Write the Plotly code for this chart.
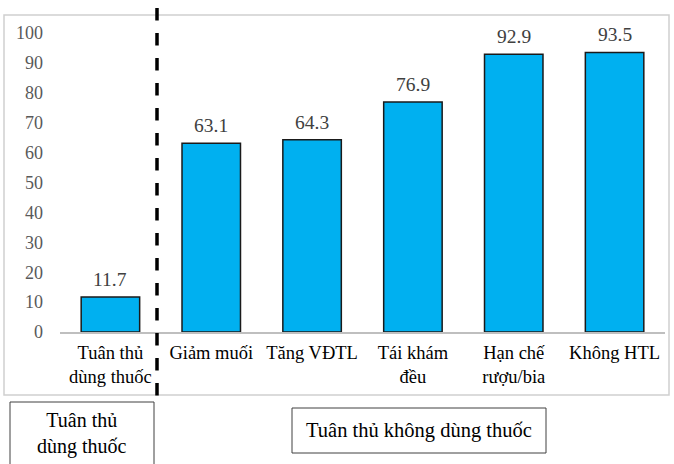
import plotly.graph_objects as go

categories = ["Tuân thủ<br>dùng thuốc", "Giảm muối", "Tăng VĐTL", "Tái khám<br>đều", "Hạn chế<br>rượu/bia", "Không HTL"]
values = [11.7, 63.1, 64.3, 76.9, 92.9, 93.5]
y_ticks = list(range(0, 101, 10))
group_labels = ["Tuân thủ<br>dùng thuốc", "Tuân thủ không dùng thuốc"]

FONT = "Liberation Serif"
W, H = 674, 464
L, R, T, B = 60, 9, 33, 132
pw, ph = W - L - R, H - T - B

def px(x):
    return (x - L) / pw

def py(y):
    return (H - B - y) / ph

xs = list(range(len(categories)))

fig = go.Figure()
fig.add_trace(go.Bar(
    x=xs, y=values,
    marker=dict(color="#00B0F0", line=dict(color="#1a1a1a", width=1.5)),
    cliponaxis=False, hoverinfo="skip",
))

shapes = [
    dict(type="rect", xref="paper", yref="paper", x0=px(4), x1=px(669), y0=py(395), y1=py(15),
         line=dict(color="#D0D0D0", width=1.5), layer="below"),
    dict(type="line", xref="paper", yref="paper", x0=px(157), x1=px(157), y0=py(-17), y1=py(395.5),
         line=dict(color="black", width=3.5, dash="12.5px,12.5px")),
    dict(type="rect", xref="paper", yref="paper", x0=px(10), x1=px(154), y0=py(470), y1=py(402),
         line=dict(color="#404040", width=1)),
    dict(type="rect", xref="paper", yref="paper", x0=px(292), x1=px(546), y0=py(453), y1=py(408),
         line=dict(color="#404040", width=1)),
]

annotations = [
    dict(xref="paper", yref="paper", x=px(82), y=py(433), text=group_labels[0], showarrow=False,
         font=dict(family=FONT, size=20, color="black"), xanchor="center", yanchor="middle"),
    dict(xref="paper", yref="paper", x=px(419), y=py(430), text=group_labels[1], showarrow=False,
         font=dict(family=FONT, size=20.5, color="black"), xanchor="center", yanchor="middle"),
]
for xi, v in zip(xs, values):
    annotations.append(dict(
        x=xi, y=v, xref="x", yref="y", text=f"{v:.1f}", showarrow=False,
        xanchor="center", yanchor="bottom", yshift=5,
        font=dict(family=FONT, size=19.5, color="#404040"),
    ))

fig.update_layout(
    width=W, height=H, margin=dict(l=L, r=R, t=T, b=B),
    plot_bgcolor="white", paper_bgcolor="white",
    showlegend=False, bargap=0.42,
    shapes=shapes, annotations=annotations,
    font=dict(family=FONT),
)
fig.update_xaxes(
    tickmode="array", tickvals=xs, ticktext=categories,
    range=[-0.5, len(categories) - 0.5],
    showline=True, linecolor="#BFBFBF", linewidth=1.5, showgrid=False, zeroline=False,
    tickfont=dict(family=FONT, size=18.5, color="black"), ticks="", ticklabelstandoff=3,
)
fig.update_yaxes(
    range=[0, 100], tickvals=y_ticks, showgrid=False, zeroline=False, showline=False,
    tickfont=dict(family=FONT, size=18, color="#595959"), ticks="", ticklabelstandoff=16,
)

fig.write_html("out.html", config={"displayModeBar": False},
               post_script="document.body.style.margin='0';document.body.style.overflow='hidden';")
